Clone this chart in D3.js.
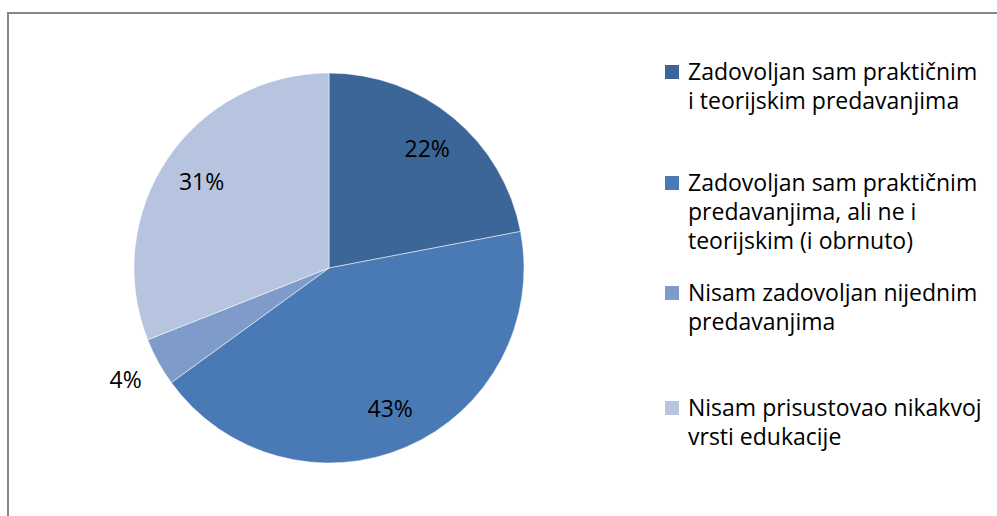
<!DOCTYPE html>
<html>
<head>
<meta charset="utf-8">
<script src="https://cdn.jsdelivr.net/npm/d3@7"></script>
<style>
  body { margin: 0; background: #fff; }
  svg text { font-family: "Open Sans", sans-serif; fill: #000; }
</style>
</head>
<body>
<div id="chart"></div>
<script>
const categories = [
  'Zadovoljan sam praktičnim i teorijskim predavanjima',
  'Zadovoljan sam praktičnim predavanjima, ali ne i teorijskim (i obrnuto)',
  'Nisam zadovoljan nijednim predavanjima',
  'Nisam prisustovao nikakvoj vrsti edukacije'
];
const values = [22, 43, 4, 31];
const legendLines = [
  ['Zadovoljan sam praktičnim', 'i teorijskim predavanjima'],
  ['Zadovoljan sam praktičnim', 'predavanjima, ali ne i', 'teorijskim (i obrnuto)'],
  ['Nisam zadovoljan nijednim', 'predavanjima'],
  ['Nisam prisustovao nikakvoj', 'vrsti edukacije']
];
const colours = ['#3C6598', '#4A7AB6', '#7E9BC9', '#B6C4E0'];

const width = 997, height = 516;
const cx = 329, cy = 268, radius = 195;

const svg = d3.select('#chart').append('svg')
  .attr('width', width)
  .attr('height', height);

// chart frame, only top and left edges are visible
svg.append('path')
  .attr('d', `M8,${height} V13 H${width}`)
  .attr('fill', 'none')
  .attr('stroke', '#878787')
  .attr('stroke-width', 2);

const pie = d3.pie().sort(null).value(d => d);
const arcs = pie(values);
const arc = d3.arc().innerRadius(0).outerRadius(radius);
const labelArc = d3.arc().innerRadius(154).outerRadius(154);
const outerLabelArc = d3.arc().innerRadius(232).outerRadius(232);

const g = svg.append('g').attr('transform', `translate(${cx},${cy})`);

g.selectAll('path.slice')
  .data(arcs)
  .enter()
  .append('path')
  .attr('class', 'slice')
  .attr('d', arc)
  .attr('fill', (d, i) => colours[i])
  .attr('stroke', 'rgba(255,255,255,0.5)')
  .attr('stroke-width', 1);

g.selectAll('text.pct')
  .data(arcs)
  .enter()
  .append('text')
  .attr('class', 'pct')
  .attr('transform', d => `translate(${(d.data < 10 ? outerLabelArc : labelArc).centroid(d)})`)
  .attr('text-anchor', 'middle')
  .attr('dy', '0.35em')
  .style('font-size', '23px')
  .text(d => d.data + '%');

// legend
const itemTops = [72, 183, 293, 408];
const lineStep = 29;
const legend = svg.append('g');

legendLines.forEach((lines, i) => {
  const item = legend.append('g').attr('transform', `translate(0,${itemTops[i]})`);
  item.append('rect')
    .attr('x', 665)
    .attr('y', -7)
    .attr('width', 14)
    .attr('height', 14)
    .attr('fill', colours[i]);
  item.selectAll('text')
    .data(lines)
    .enter()
    .append('text')
    .attr('x', 688)
    .attr('y', (d, j) => j * lineStep)
    .attr('dy', '0.35em')
    .style('font-size', '23px')
    .text(d => d);
});
</script>
</body>
</html>
